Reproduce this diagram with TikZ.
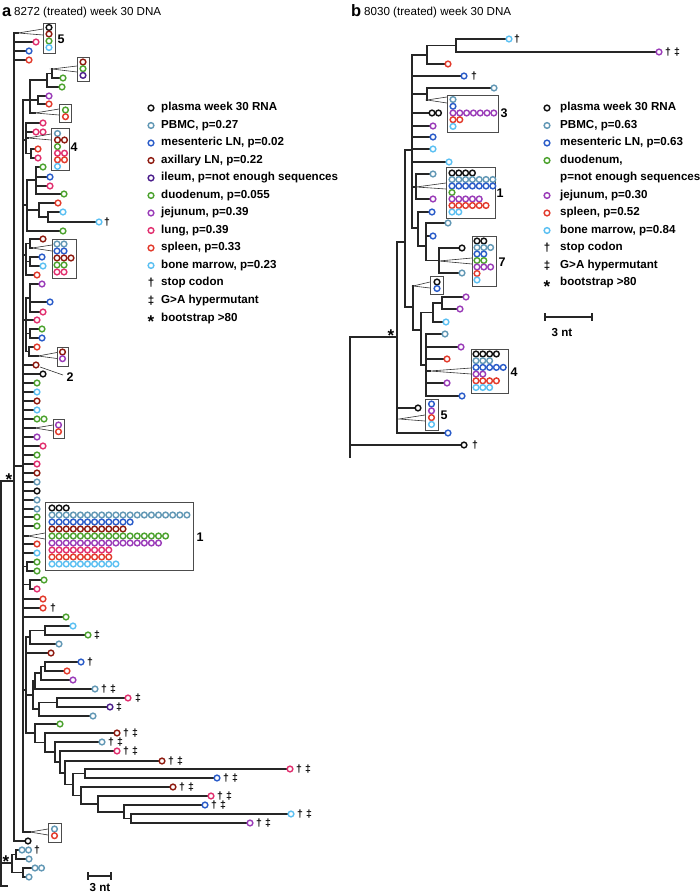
\documentclass[tikz,border=0pt]{standalone}
\usepackage{fontspec}
\setmainfont{Liberation Sans}
\definecolor{cpl}{HTML}{111111}
\definecolor{cpb}{HTML}{6298B5}
\definecolor{cme}{HTML}{2A5CC9}
\definecolor{cax}{HTML}{8E1B10}
\definecolor{cil}{HTML}{4C1F8C}
\definecolor{cdu}{HTML}{4CA22E}
\definecolor{cje}{HTML}{9A3CB8}
\definecolor{clu}{HTML}{E1306F}
\definecolor{csp}{HTML}{E23B2C}
\definecolor{cbm}{HTML}{5CC0F2}
\newcounter{nd}
\newcommand{\cc}[3]{\draw[#3,circ] (#1,#2) circle[radius=2.85pt];}
\newcommand{\crow}[5]{\foreach \k in {1,...,#4}{\draw[#3,circ] ({#1+(\k-1)*#5},#2) circle[radius=2.85pt];}}
\newcommand{\vl}[3]{\draw[br] (#1,#2) -- (#1,#3);}
\newcommand{\hl}[3]{\draw[br] (#1,#3) -- (#2,#3);}
\newcommand{\lb}[4]{\draw[br] (#1,#3) -- ({#2-3.6},#3); \cc{#2}{#3}{#4}}
\newcommand{\wg}[4]{\draw[wedgest] (#3,{#4-3}) -- (#1,#2) -- (#3,{#4+3});}
\newcommand{\bx}[4]{\draw[boxst] (#1,#2) rectangle (#3,#4);}
\newcommand{\dg}[2]{\stepcounter{nd}\node[mk] (s\arabic{nd}) at (#1,#2) {†};}
\newcommand{\dd}[2]{\stepcounter{nd}\node[mk] (s\arabic{nd}) at (#1,#2) {‡};}
\newcommand{\dgd}[2]{\dg{#1+9}{#2}\dd{#1+18}{#2}}
\newcommand{\lab}[3]{\stepcounter{nd}\node[mk,font=\fontsize{12.5}{13}\selectfont\bfseries] (s\arabic{nd}) at (#1,#2) {#3};}
\begin{document}
\begin{tikzpicture}[x=1pt,y=-1pt,
  br/.style={line width=1.15pt,black!85,line cap=rect},
  circ/.style={line width=1.45pt},
  wedgest/.style={line width=0.6pt,black!80},
  boxst/.style={line width=0.8pt,black!70},
  lt/.style={font=\fontsize{11.6}{13}\selectfont\bfseries,anchor=west,inner sep=0pt},
  mk/.style={font=\fontsize{10.5}{12}\selectfont\bfseries,inner sep=0pt},
  ast/.style={font=\fontsize{17}{17}\selectfont\bfseries,inner sep=0pt}]
\useasboundingbox (0,0) rectangle (700,893);
% ---------------- titles
\node[anchor=base west,inner sep=0pt,font=\fontsize{16.5}{16}\selectfont\bfseries] (ta) at (2,16.5) {a};
\node[anchor=base west,inner sep=0pt,font=\fontsize{11.6}{13}\selectfont] (tat) at (14,16) {8272 (treated) week 30 DNA};
\node[anchor=base west,inner sep=0pt,font=\fontsize{16.5}{16}\selectfont\bfseries] (tb) at (351,16.5) {b};
\node[anchor=base west,inner sep=0pt,font=\fontsize{11.6}{13}\selectfont] (tbt) at (364,16) {8030 (treated) week 30 DNA};
% ---------------- legend a
\cc{151}{108}{cpl}\node[lt] (la1) at (161,108) {plasma week 30 RNA};
\cc{151}{125.5}{cpb}\node[lt] (la2) at (161,125.5) {PBMC, p=0.27};
\cc{151}{143}{cme}\node[lt] (la3) at (161,143) {mesenteric LN, p=0.02};
\cc{151}{160.5}{cax}\node[lt] (la4) at (161,160.5) {axillary LN, p=0.22};
\cc{151}{178}{cil}\node[lt] (la5) at (161,178) {ileum, p=not enough sequences};
\cc{151}{195.5}{cdu}\node[lt] (la6) at (161,195.5) {duodenum, p=0.055};
\cc{151}{213}{cje}\node[lt] (la7) at (161,213) {jejunum, p=0.39};
\cc{151}{230.5}{clu}\node[lt] (la8) at (161,230.5) {lung, p=0.39};
\cc{151}{248}{csp}\node[lt] (la9) at (161,248) {spleen, p=0.33};
\cc{151}{265.5}{cbm}\node[lt] (la10) at (161,265.5) {bone marrow, p=0.23};
\node[mk,font=\fontsize{11.6}{13}\selectfont\bfseries] (la11s) at (151,283) {†};\node[lt] (la11) at (161,283) {stop codon};
\node[mk,font=\fontsize{11.6}{13}\selectfont\bfseries] (la12s) at (151,300.5) {‡};\node[lt] (la12) at (161,300.5) {G>A hypermutant};
\node[ast] (la13s) at (151,322) {*};\node[lt] (la13) at (161,318) {bootstrap >80};
% ---------------- legend b
\cc{547}{108}{cpl}\node[lt] (lb1) at (560,108) {plasma week 30 RNA};
\cc{547}{125.5}{cpb}\node[lt] (lb2) at (560,125.5) {PBMC, p=0.63};
\cc{547}{143}{cme}\node[lt] (lb3) at (560,143) {mesenteric LN, p=0.63};
\cc{547}{160.5}{cdu}\node[lt] (lb4) at (560,160.5) {duodenum,};
\node[lt] (lb5) at (560,178) {p=not enough sequences};
\cc{547}{195.5}{cje}\node[lt] (lb6) at (560,195.5) {jejunum, p=0.30};
\cc{547}{213}{csp}\node[lt] (lb7) at (560,213) {spleen, p=0.52};
\cc{547}{230.5}{cbm}\node[lt] (lb8) at (560,230.5) {bone marrow, p=0.84};
\node[mk,font=\fontsize{11.6}{13}\selectfont\bfseries] (lb9s) at (547,248) {†};\node[lt] (lb9) at (560,248) {stop codon};
\node[mk,font=\fontsize{11.6}{13}\selectfont\bfseries] (lb10s) at (547,265.5) {‡};\node[lt] (lb10) at (560,265.5) {G>A hypermutant};
\node[ast] (lb11s) at (547,287) {*};\node[lt] (lb11) at (560,283) {bootstrap >80};
% ---------------- scale bars
\draw[br] (88,876) -- (111,876); \draw[br] (88,873) -- (88,879); \draw[br] (111,873) -- (111,879);
\node[mk,font=\fontsize{11.6}{13}\selectfont\bfseries,anchor=base] (sca) at (100,891) {3 nt};
\draw[br] (545,317) -- (592,317); \draw[br] (545,314) -- (545,320); \draw[br] (592,314) -- (592,320);
\node[mk,font=\fontsize{11.6}{13}\selectfont\bfseries] (scb) at (562,333) {3 nt};
% =============== TREE A
\vl{1}{481}{886}\hl{1}{7}{886}\hl{1}{14}{481}
\node[ast] (sta1) at (9,480) {*};
\hl{1}{12}{863}\node[ast] (sta2) at (6,862) {*};
\vl{12}{854.5}{872.5}\hl{12}{16}{854.5}\vl{16}{850}{859}
\lb{16}{22}{850}{cpb}\cc{28.5}{850}{cpb}\dg{37}{850}\lb{16}{29}{859}{cpb}
\hl{12}{23}{872.5}\vl{23}{868}{877}\lb{23}{35}{868}{cpb}\cc{41.5}{868}{cpb}\lb{23}{29}{877}{cpb}
% M
\vl{14}{33}{841}
\hl{14}{18}{33}\wg{18}{33}{43}{32}\bx{43}{23}{55}{53}
\cc{49}{27.5}{cpl}\cc{49}{34}{cax}\cc{49}{41}{cdu}\cc{49}{47.5}{cbm}\lab{61}{39}{5}
\lb{14}{36}{42}{clu}\lb{14}{29}{51}{cme}\lb{14}{29}{60}{csp}
\hl{14}{23}{466}
\lb{14}{28}{841}{cpl}
% P
\vl{23}{100}{832}
% clade A
\hl{23}{30}{100}\vl{30}{80}{113}
\hl{30}{47}{80}\vl{47}{73.5}{87}\hl{47}{52}{73.5}\vl{52}{69}{78}
\wg{52}{69}{77}{69}\bx{77}{57}{89}{81}\cc{83}{62}{cax}\cc{83}{68.7}{cdu}\cc{83}{75.4}{cil}
\lb{52}{63}{78}{cdu}\lb{47}{62}{87}{cdu}
\hl{30}{38}{100}\vl{38}{96}{104}\lb{38}{49}{96}{cje}\lb{38}{49}{104}{csp}
\hl{30}{35}{113}\wg{35}{113}{59}{112}\bx{59}{104}{71}{122}\cc{65.5}{110}{cdu}\cc{65.5}{116.7}{csp}
% clade B
\hl{23}{26}{140}\vl{26}{123}{153.5}
\lb{26}{43}{123}{clu}
\lb{26}{36}{132}{clu}\cc{43}{132}{clu}
\hl{26}{28}{138}\wg{28}{138}{51}{137}\bx{51}{128}{69}{170}
\cc{57.5}{133.5}{cpb}\crow{57.5}{140}{cax}{2}{7}\cc{57.5}{146.6}{cdu}\crow{57.5}{153.2}{clu}{2}{7}\crow{57.5}{159.8}{csp}{2}{7}\cc{57.5}{166.4}{cbm}
\lab{74}{147}{4}
\hl{26}{31}{153.5}\vl{31}{149}{158}\lb{31}{38}{149}{csp}\lb{31}{38}{158}{clu}
% clade C
\hl{23}{27}{205}\vl{27}{180}{231}
\hl{27}{36}{180}\vl{36}{167}{194}\lb{36}{43}{167}{cdu}\lb{36}{50}{177}{cme}\lb{36}{50}{186}{clu}\lb{36}{64}{194}{cdu}
\hl{27}{39}{210}\vl{39}{203}{217}\lb{39}{58}{203}{csp}\hl{39}{48}{217}\vl{48}{212}{222}
\lb{48}{63}{212}{cbm}\lb{48}{99}{222}{cbm}\dg{107}{222}
\lb{27}{63}{231}{cdu}
% clade D
\hl{23}{26}{255}\vl{26}{243.5}{275}
\hl{26}{30}{243.5}\vl{30}{239}{248}\lb{30}{43}{239}{cax}\hl{30}{32}{248}
\wg{32}{248}{52}{248}\bx{52}{239}{76}{278}
\crow{57}{244}{cpb}{2}{7}\crow{57}{251}{cme}{2}{7}\crow{57}{258}{cax}{3}{7}\crow{57}{265}{cdu}{2}{7}\crow{57}{272}{clu}{2}{7}
\hl{26}{30}{261.5}\vl{30}{257}{266}\lb{30}{42}{257}{cme}\lb{30}{43}{266}{cbm}
\lb{26}{37}{275}{csp}
% clade E
\hl{23}{26}{320}\vl{26}{298}{351.5}
\hl{26}{30}{298}\vl{30}{284}{312}\lb{30}{42}{284}{cje}\lb{30}{50}{302}{cme}\lb{30}{43}{312}{clu}
\lb{26}{37}{320}{clu}
\hl{26}{30}{333.5}\vl{30}{329}{338}\lb{30}{42}{329}{cdu}\lb{30}{42}{338}{cme}
\hl{26}{29}{351.5}\vl{29}{347}{356}\lb{29}{37}{347}{csp}\hl{29}{38}{356}
\wg{38}{356}{57}{355.5}\bx{57}{347}{68}{366}\cc{62.5}{352}{cax}\cc{62.5}{358.7}{cje}
% direct leaves on P
\lb{23}{36}{365}{cax}\draw[wedgest] (40,367) -- (63,375);\lab{70}{377}{2}
\lb{23}{43}{374}{cpl}
\lb{23}{37}{383}{cdu}
\lb{23}{37}{392}{cbm}
\lb{23}{37}{401}{cax}
\lb{23}{37}{410}{cbm}
\lb{23}{37}{419}{cdu}\cc{44}{419}{cdu}
\hl{23}{35}{428}\wg{35}{428}{53}{428}\bx{53}{419}{64}{438}\cc{58.5}{425}{cje}\cc{58.5}{431.7}{csp}
\lb{23}{37}{437}{cje}
\lb{23}{43}{446}{clu}
\lb{23}{37}{455}{cdu}
\lb{23}{37}{464}{clu}
\lb{23}{37}{473}{cax}
\lb{23}{37}{482}{cpb}
\lb{23}{37}{491}{cpl}
\lb{23}{37}{500}{cpb}
\lb{23}{37}{509}{cpb}
\lb{23}{37}{517}{cdu}
\lb{23}{37}{526}{cdu}
\hl{23}{28}{536}\wg{28}{536}{45}{536}\bx{45}{502}{193}{570}
\crow{52}{508}{cpl}{3}{7.1}
\crow{52}{515}{cpb}{20}{7.1}
\crow{52}{522}{cme}{12}{7.1}
\crow{52}{529}{cax}{11}{7.1}
\crow{52}{536}{cdu}{17}{7.1}
\crow{52}{543}{cje}{16}{7.1}
\crow{52}{550}{clu}{9}{7.1}
\crow{52}{557}{csp}{9}{7.1}
\crow{52}{564}{cbm}{10}{7.1}
\lab{200}{537}{1}
\lb{23}{37}{544}{csp}
\lb{23}{37}{553}{cbm}
\hl{23}{27}{566.5}\vl{27}{562}{571}\lb{27}{37}{562}{cdu}\lb{27}{37}{571}{cdu}
\hl{23}{30}{584.5}\vl{30}{580}{589}\lb{30}{44}{580}{cdu}\lb{30}{37}{589}{clu}
\lb{23}{43}{599}{csp}
\lb{23}{43}{608}{csp}\dg{53}{608}
\lb{23}{66}{617}{cdu}
% clade F
\hl{23}{26}{690}\vl{26}{637}{733}
\hl{26}{30}{637}\vl{30}{630.5}{644}\hl{30}{45}{630.5}\vl{45}{626}{635}
\lb{45}{73}{626}{cbm}\lb{45}{88}{635}{cdu}\dd{97}{635}\lb{30}{59}{644}{cpb}
\lb{26}{51}{653}{cax}
\hl{26}{33}{695}\vl{33}{681}{709}
\hl{33}{35}{681}\vl{35}{673}{689}\hl{35}{41}{673}\vl{41}{666.5}{680}\hl{41}{45}{666.5}\vl{45}{662}{671}
\lb{45}{81}{662}{cme}\dg{90}{662}\lb{45}{67}{671}{csp}\lb{41}{73}{680}{cje}
\lb{35}{95}{689}{cpb}\dgd{95}{689}
\hl{33}{39}{709}\vl{39}{702.5}{716}\hl{39}{57}{702.5}\vl{57}{698}{707}
\lb{57}{128}{698}{clu}\dd{138}{698}\lb{57}{110}{707}{cil}\dd{119}{707}
\lb{39}{93}{716}{cpb}
\hl{26}{35}{733}\vl{35}{724}{742.5}
\lb{35}{60}{724}{cdu}
\hl{35}{45}{742.5}\vl{45}{733}{752}
\lb{45}{117}{733}{cax}\dgd{117}{733}
\hl{45}{55}{752}\vl{55}{742}{762}
\lb{55}{102}{742}{cpb}\dgd{102}{742}
\hl{55}{60}{762}\vl{60}{751}{773}
\lb{60}{117}{751}{clu}\dgd{117}{751}
\hl{60}{65}{773}\vl{65}{761}{784.5}
\lb{65}{162}{761}{cax}\dgd{162}{761}
\hl{65}{73}{784.5}\vl{73}{773.5}{795.5}
\hl{73}{85}{773.5}\vl{85}{769}{778}
\lb{85}{290}{769}{clu}\dgd{290}{769}\lb{85}{217}{778}{cme}\dgd{217}{778}
\hl{73}{81}{795.5}\vl{81}{787}{804}
\lb{81}{173}{787}{cax}\dgd{173}{787}
\hl{81}{98}{804}\vl{98}{796}{812}
\lb{98}{211}{796}{clu}\dgd{211}{796}
\hl{98}{124}{812}\vl{124}{805}{818.5}
\lb{124}{205}{805}{cme}\dgd{205}{805}
\hl{124}{131}{818.5}\vl{131}{814}{823}
\lb{131}{291}{814}{cbm}\dgd{291}{814}\lb{131}{250}{823}{cje}\dgd{250}{823}
% bottom box on P
\hl{23}{30}{832}\wg{30}{832}{48}{832}\bx{48}{823}{61}{842}\cc{54.5}{829}{cpb}\cc{54.5}{835.7}{csp}
% =============== TREE B
\vl{350}{337}{457}\hl{350}{397}{337}\node[ast] (stb1) at (391,336) {*};
\lb{350}{464}{445}{cpl}\dg{475}{445}
\vl{397}{242}{433}
\hl{397}{405}{242}
\lb{397}{418}{408}{cpl}
\wg{399}{419}{425}{418}\bx{425}{399}{438}{430}
\cc{431.5}{404}{cme}\cc{431.5}{410.8}{cje}\cc{431.5}{417.6}{csp}\cc{431.5}{424.4}{cbm}\lab{444}{415}{5}
\lb{397}{448}{433}{cme}
\vl{405}{150}{307}\hl{405}{412}{150}\hl{405}{413}{307}
\vl{412}{55}{228}
\hl{412}{427}{55}\vl{427}{45.5}{64}\hl{427}{456}{45.5}\vl{456}{39}{52}
\lb{456}{509}{39}{cbm}\dg{517}{39}\lb{456}{659}{52}{cje}\dgd{659}{52}\lb{427}{448}{64}{csp}
\lb{412}{464}{76}{cme}\dg{474}{76}
\hl{412}{427}{94}\vl{427}{88}{100}\lb{427}{494}{88}{cpb}
\wg{427}{100}{447}{100}\bx{447}{95}{498}{132}
\cc{453}{99.5}{cpb}\cc{453}{106.3}{cme}\crow{453}{113}{cje}{7}{6.8}\crow{453}{119.7}{csp}{2}{6.8}\cc{453}{126.4}{cbm}\lab{504}{113}{3}
\lb{412}{432}{113}{cpl}\cc{438.5}{113}{cpl}
\lb{412}{433}{126}{cje}
\lb{412}{433}{137}{cme}
\lb{412}{433}{149}{cbm}
\lb{412}{449}{162}{cbm}
\hl{412}{416}{187}\vl{416}{174}{199}\lb{416}{433}{174}{cpb}\lb{416}{433}{199}{cje}
\wg{416}{187}{446}{186}\bx{446}{167}{495}{218}
\crow{452}{173}{cpl}{4}{6.8}\crow{452}{179.5}{cpb}{7}{6.8}\crow{452}{186}{cme}{7}{6.8}\cc{452}{192.5}{cdu}
\crow{452}{199}{cje}{5}{6.8}\crow{452}{205.5}{csp}{6}{6.8}\crow{452}{212}{cbm}{2}{6.8}\lab{500}{193}{1}
\hl{412}{418}{228}\vl{418}{212}{246}\lb{418}{432}{212}{cme}
\hl{418}{426}{246}\vl{426}{223}{260.5}\lb{426}{448}{223}{cpb}\lb{426}{433}{236}{cme}
\hl{426}{439}{260.5}\vl{439}{248}{273}\lb{439}{462}{248}{cpl}\lb{439}{462}{273}{cpb}
\wg{439}{261}{472}{261}\bx{472}{236}{496}{286}
\crow{477}{241}{cpl}{2}{6.8}\crow{477}{247.5}{cpb}{3}{6.8}\crow{477}{254}{cme}{2}{6.8}\crow{477}{260.5}{cdu}{2}{6.8}
\crow{477}{267}{cje}{3}{6.8}\cc{477}{273.5}{csp}\cc{477}{280}{cbm}\lab{502}{262}{7}
\vl{413}{286}{330}
\wg{413}{286}{430}{285}\bx{430}{276}{443}{294}\cc{437}{282}{cpl}\cc{437}{288.5}{cme}
\hl{413}{421}{330}\vl{421}{312.5}{365}
\hl{421}{433}{312.5}\vl{433}{303}{322}\hl{433}{442}{303}\vl{442}{297}{309}
\lb{442}{466}{297}{cje}\lb{442}{460}{309}{cje}\lb{433}{446}{322}{cbm}
\hl{421}{426}{365}\vl{426}{334}{396}
\lb{426}{445}{334}{cpb}\lb{426}{461}{347}{cje}\lb{426}{447}{359}{csp}
\wg{430}{371}{471}{371}\hl{426}{430}{371}\bx{471}{349}{508}{393}
\crow{476}{354}{cpl}{4}{6.8}\crow{476}{360.7}{cpb}{3}{6.8}\crow{476}{367.4}{cme}{5}{6.8}\crow{476}{374.1}{cje}{2}{6.8}
\crow{476}{380.8}{csp}{4}{6.8}\crow{476}{387.5}{cbm}{3}{6.8}\lab{514}{372}{4}
\lb{426}{447}{383}{cje}\lb{426}{462}{396}{cme}
\end{tikzpicture}
\end{document}
